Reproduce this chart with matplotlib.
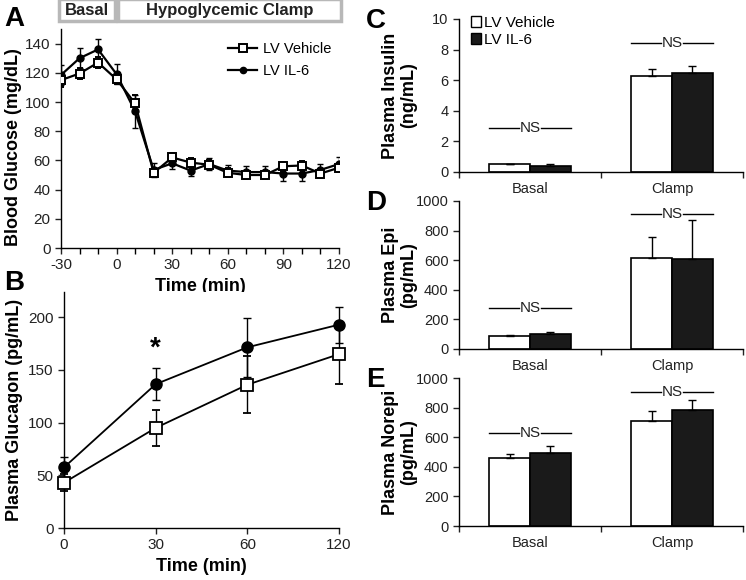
import matplotlib
matplotlib.use('Agg')
import matplotlib.pyplot as plt
from matplotlib.patches import Rectangle, Patch
from matplotlib.lines import Line2D

# ---- data ----
# panel A: blood glucose during clamp
a_time = [-30, -20, -10, 0, 10, 20, 30, 40, 50, 60, 70, 80, 90, 100, 110, 120]
a_veh = [115, 119.5, 127, 115.5, 99, 51.5, 62, 58.5, 57, 51.5, 50, 50, 56, 56.5, 51, 55]
a_veh_err = [5, 4, 4, 3, 6, 3, 3, 3, 3, 3, 3, 3, 3, 3, 3, 3]
a_il6 = [118.5, 130, 136, 119, 93.5, 53.5, 58, 53, 57.5, 53, 52, 52, 51, 51, 53.5, 57.5]
a_il6_err = [7, 7, 7, 7, 11, 5, 4, 4, 4, 4, 4, 4, 5, 5, 4, 5]

# panel B: glucagon
b_labels = ['0', '30', '60', '120']
b_veh = [43, 95, 136, 165]
b_veh_err = [8, 17, 27, 28]
b_il6 = [57.5, 136.5, 171.5, 193]
b_il6_err = [10, 15, 28, 17]

# panels C-E: bars
groups = ['Basal', 'Clamp']
ins_veh = [0.5, 6.3]
ins_veh_err = [0.03, 0.4]
ins_il6 = [0.42, 6.45]
ins_il6_err = [0.12, 0.46]
epi_veh = [88, 615]
epi_veh_err = [9, 142]
epi_il6 = [99, 606]
epi_il6_err = [18, 263]
ne_veh = [460, 708]
ne_veh_err = [25, 72]
ne_il6 = [494, 782]
ne_il6_err = [45, 72]
ns_y = {'C': [2.85, 8.4], 'D': [280, 910], 'E': [630, 905]}

plt.rcParams['font.family'] = ['Liberation Sans', 'DejaVu Sans']
plt.rcParams['font.size'] = 10.5
plt.rcParams['axes.unicode_minus'] = False
W, H = 746, 580
fig = plt.figure(figsize=(W / 100, H / 100), dpi=100)

def add_ax(l, r, t, b):
    return fig.add_axes([l / W, 1 - b / H, (r - l) / W, (b - t) / H])

def style(ax):
    for s in ['top', 'right']:
        ax.spines[s].set_visible(False)
    for s in ['left', 'bottom']:
        ax.spines[s].set_linewidth(1.0)
    ax.tick_params(direction='out', length=4, width=1, colors='#222222', labelsize=11)

lab_font = dict(fontsize=13, fontweight='bold')

# ---- panel A ----
axA = add_ax(61, 339, 29, 248)
style(axA)
axA.errorbar(a_time, a_veh, yerr=a_veh_err, color='black', lw=1.6, marker='s', ms=6,
             mfc='white', mec='black', mew=1.4, capsize=2.5, elinewidth=1, zorder=3)
axA.errorbar(a_time, a_il6, yerr=a_il6_err, color='black', lw=1.6, marker='o', ms=5,
             mfc='black', mec='black', capsize=2.5, elinewidth=1, zorder=2)
axA.set_xlim(-30, 120)
axA.set_ylim(0, 150)
axA.set_yticks(range(0, 141, 20))
axA.set_xticks(range(-30, 121, 30))
axA.set_xticks(range(-30, 121, 10), minor=True)
axA.tick_params(which='minor', length=4, width=1, direction='out')
axA.set_xlabel('Time (min)', **lab_font, labelpad=4)
axA.set_ylabel('Blood Glucose (mg/dL)', **lab_font)
axA.yaxis.set_label_coords(-0.14, 0.46)
h = [Line2D([], [], color='black', lw=1.6, marker='s', ms=6, mfc='white', mew=1.4),
     Line2D([], [], color='black', lw=1.6, marker='o', ms=4.5)]
axA.legend(h, ['LV Vehicle', 'LV IL-6'], frameon=False, loc='upper right',
           bbox_to_anchor=(1.02, 1.0), fontsize=10.5, handlelength=2.0, handletextpad=0.4,
           labelspacing=0.55)
# phase boxes above panel A
trans = axA.get_xaxis_transform()
for x0, x1, txt in [(-31, -0.6, 'Basal'), (0.6, 121, 'Hypoglycemic Clamp')]:
    axA.add_patch(Rectangle((x0, 1.035), x1 - x0, 0.1, transform=trans, fill=False,
                            ec='#b8b8b8', lw=2.5, clip_on=False))
    axA.text((x0 + x1) / 2, 1.085, txt, transform=trans, ha='center', va='center',
             fontsize=12, fontweight='bold', color='#222222')
fig.text(4 / W, 1 - 19 / H, 'A', fontsize=20, fontweight='bold', va='center')

# ---- panel B ----
axB = add_ax(64, 339, 292, 528)
style(axB)
bx = list(range(len(b_labels)))
axB.errorbar(bx, b_veh, yerr=b_veh_err, color='black', lw=1.3, marker='s', ms=8,
             mfc='white', mec='black', mew=1.3, capsize=3, elinewidth=1, clip_on=False, zorder=3)
axB.errorbar(bx, b_il6, yerr=b_il6_err, color='black', lw=1.3, marker='o', ms=8,
             mfc='black', mec='black', capsize=3, elinewidth=1, clip_on=False, zorder=2)
axB.set_xlim(0, 3)
axB.set_ylim(0, 224)
axB.set_yticks(range(0, 201, 50))
axB.set_xticks(bx, b_labels)
axB.set_xlabel('Time (min)', **lab_font, labelpad=4)
axB.set_ylabel('Plasma Glucagon (pg/mL)', **lab_font)
axB.yaxis.set_label_coords(-0.148, 0.5)
axB.text(1, 170, '*', ha='center', va='center', fontsize=20, fontweight='bold')
fig.text(4 / W, 1 - 283 / H, 'B', fontsize=20, fontweight='bold', va='center')

# ---- panels C, D, E ----
bw = 0.288
bar_specs = [
    ('C', 19, 172, 'Plasma Insulin\n(ng/mL)', ins_veh, ins_veh_err, ins_il6, ins_il6_err, 10, 2),
    ('D', 201, 349, 'Plasma Epi\n(pg/mL)', epi_veh, epi_veh_err, epi_il6, epi_il6_err, 1000, 200),
    ('E', 378, 526, 'Plasma Norepi\n(pg/mL)', ne_veh, ne_veh_err, ne_il6, ne_il6_err, 1000, 200),
]
for key, top, bot, ylab, veh, veh_e, il6, il6_e, ymax, ystep in bar_specs:
    ax = add_ax(459, 743, top, bot)
    style(ax)
    xs = list(range(len(groups)))
    ekw = dict(elinewidth=1, capthick=1)
    # error bars drawn upward only
    ax.bar([x - bw / 2 for x in xs], veh, bw, yerr=[[0] * len(veh), veh_e], color='white',
           edgecolor='black', lw=1.2, capsize=3, error_kw=ekw)
    ax.bar([x + bw / 2 for x in xs], il6, bw, yerr=[[0] * len(il6), il6_e], color='#1a1a1a',
           edgecolor='black', lw=1.2, capsize=3, error_kw=ekw)
    ax.set_xlim(-0.5, 1.5)
    ax.set_ylim(0, ymax)
    ax.set_yticks([i * ystep for i in range(int(ymax / ystep) + 1)])
    ax.tick_params(axis='y', labelsize=10.5)
    ax.set_xticks([-0.5, 0.5, 1.5], ['', '', ''])
    ax.set_xticks(xs, groups, minor=True)
    ax.tick_params(axis='x', which='minor', length=0, pad=7, labelsize=10.5, colors='#222222')
    for x, y in zip(xs, ns_y[key]):
        ax.plot([x - bw, x - 0.075], [y, y], color='black', lw=1)
        ax.plot([x + 0.075, x + bw], [y, y], color='black', lw=1)
        ax.text(x, y, 'NS', ha='center', va='center', fontsize=11, color='#222222')
    ax.text(-0.21, 0.5, ylab, transform=ax.transAxes, rotation=90, ha='center',
            va='center', multialignment='center', fontsize=13, fontweight='bold',
            linespacing=1.1)
    if key == 'C':
        hh = [Patch(fc='white', ec='black', lw=1), Patch(fc='#1a1a1a', ec='black', lw=1)]
        ax.legend(hh, ['LV Vehicle', 'LV IL-6'], frameon=False, loc='upper left',
                  bbox_to_anchor=(0.02, 1.06), fontsize=11, handlelength=0.7,
                  handleheight=0.7, handletextpad=0.15, labelspacing=0.2, borderaxespad=0)
    fig.text(366 / W, 1 - (top + 2) / H, key, fontsize=20, fontweight='bold', va='center')

fig.savefig('out.png', dpi=100)
